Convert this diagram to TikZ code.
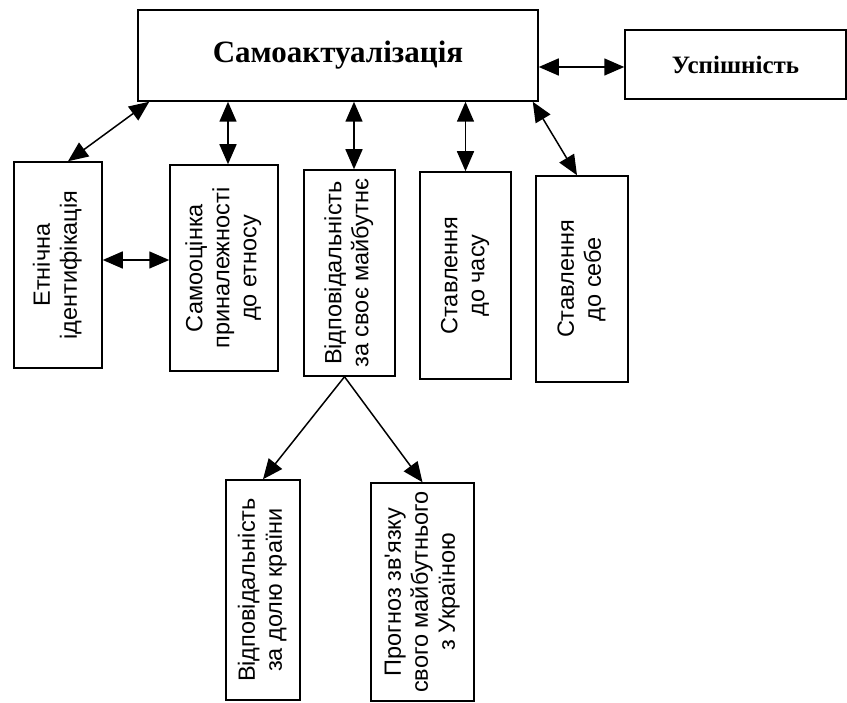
\documentclass[tikz,border=0pt]{standalone}
\usepackage{fontspec}
\setmainfont{Liberation Serif}
\newfontfamily\vfont{Liberation Sans}
\usetikzlibrary{arrows.meta,calc}
\tikzset{
  tip/.tip={Triangle[length=20pt,width=17pt]},
  box/.style={draw, line width=1.5pt, inner sep=0pt, align=center},
  link/.style={line width=1.5pt, tip-tip},
  onearrow/.style={line width=1.5pt, -tip},
  vtext/.style={font=\vfont\fontsize{23.5}{27}\selectfont}
}
\newcommand{\vlab}[1]{\rotatebox{90}{\begin{tabular}{@{}c@{}}#1\end{tabular}}}
\begin{document}
\begin{tikzpicture}[x=1pt,y=-1pt]
\useasboundingbox (0,0) rectangle (847,703);
\node[box, minimum width=400pt, minimum height=91pt, font=\bfseries\fontsize{31}{36}\selectfont] (main) at (338,55.5) {Самоактуалізація};
\node[box, minimum width=221pt, minimum height=69pt, font=\bfseries\fontsize{25}{30}\selectfont] (usp) at (735.5,64.5) {Успішність};
\node[box, minimum width=88pt, minimum height=206pt, vtext] (et) at (58,265) {\vlab{Етнічна\\ідентифікація}};
\node[box, minimum width=108pt, minimum height=206pt, vtext] (samo) at (224,268) {\vlab{Самооцінка\\приналежності\\до етносу}};
\node[box, minimum width=91pt, minimum height=206pt, vtext] (vid) at (349.5,273) {\vlab{Відповідальність\\за своє майбутнє}};
\node[box, minimum width=91pt, minimum height=207pt, vtext] (chas) at (465.5,275.5) {\vlab{Ставлення\\до часу}};
\node[box, minimum width=92pt, minimum height=206pt, vtext] (sebe) at (582,279) {\vlab{Ставлення\\до себе}};
\node[box, minimum width=74pt, minimum height=220pt, vtext] (dolya) at (263,590) {\vlab{Відповідальність\\за долю країни}};
\node[box, minimum width=103pt, minimum height=218pt, vtext] (prog) at (422.5,592) {\vlab{Прогноз зв'язку\\свого майбутнього\\з Україною}};
\draw[link] ([yshift=-11.5pt]main.east) -- ([yshift=-11.5pt]main.east -| usp.west);
\draw[link] ([xshift=12pt]main.south west) -- ([xshift=10pt]et.north);
\draw[link] ([xshift=4pt]samo.north |- main.south) -- ([xshift=4pt]samo.north);
\draw[link] ([xshift=4.5pt]vid.north |- main.south) -- ([xshift=4.5pt]vid.north);
\draw[link] (chas.north |- main.south) -- (chas.north);
\draw[link] ([xshift=-6pt]main.south east) -- ([xshift=-5pt]sebe.north);
\draw[link] ([yshift=5pt]et.east) -- ([yshift=5pt]et.east -| samo.west);
\draw[onearrow] ([xshift=-5pt]vid.south) -- (dolya.north);
\draw[onearrow] ([xshift=-5pt]vid.south) -- (prog.north);
\end{tikzpicture}
\end{document}
